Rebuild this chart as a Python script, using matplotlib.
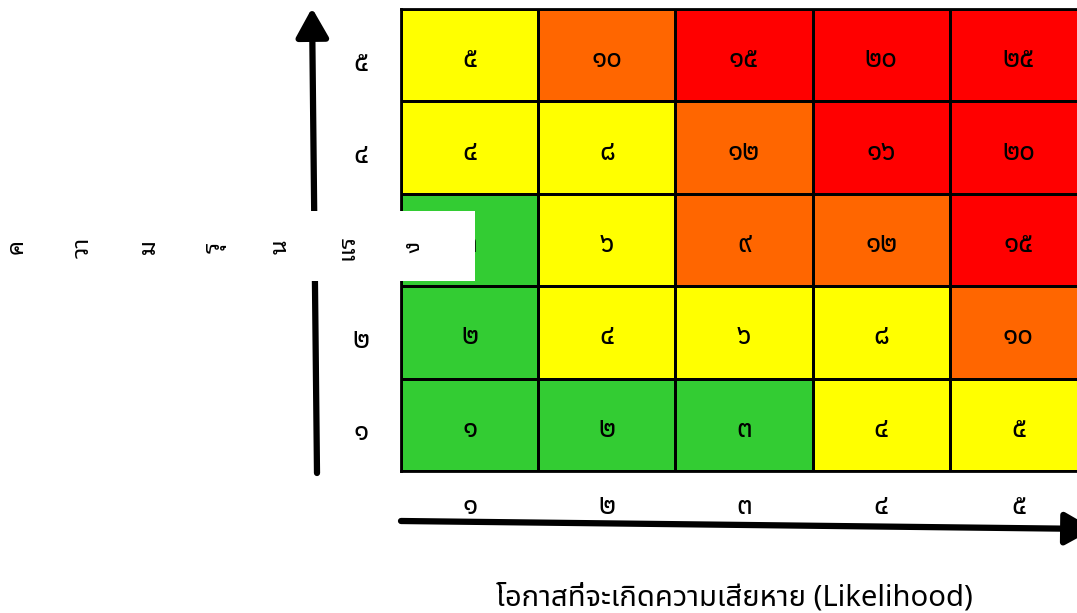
import matplotlib
matplotlib.use("Agg")
import matplotlib.pyplot as plt
import numpy as np
from matplotlib.colors import ListedColormap
from matplotlib.patches import Rectangle
from matplotlib.transforms import ScaledTranslation

# ---- data ----
likelihood_labels = ["๑", "๒", "๓", "๔", "๕"]
severity_labels = ["๑", "๒", "๓", "๔", "๕"]          # bottom -> top
# scores, rows from severity 1 (bottom) to 5 (top)
scores = [
    ["๑", "๒", "๓", "๔", "๕"],
    ["๒", "๔", "๖", "๘", "๑๐"],
    ["๓", "๖", "๙", "๑๒", "๑๕"],
    ["๔", "๘", "๑๒", "๑๖", "๒๐"],
    ["๕", "๑๐", "๑๕", "๒๐", "๒๕"],
]
# risk level per cell: 0 low(green) 1 medium(yellow) 2 high(orange) 3 very high(red)
levels = [
    [0, 0, 0, 1, 1],
    [0, 1, 1, 1, 2],
    [0, 1, 2, 2, 3],
    [1, 1, 2, 3, 3],
    [1, 2, 3, 3, 3],
]
level_colors = ["#33CC33", "#FFFF00", "#FF6600", "#FF0000"]
xlabel_text = "โอกาสที่จะเกิดความเสียหาย (Likelihood)"
ylabel_chars = ["ค", "วา", "ม", "รุ", "น", "แร", "ง"]

FONT = ["Noto Sans Thai", "DejaVu Sans"]
LOOPED = ["Noto Sans Thai Looped", "DejaVu Sans"]
plt.rcParams["font.family"] = FONT

W, H = 1077, 613
fig = plt.figure(figsize=(W / 100, H / 100), dpi=100)
down = ScaledTranslation(0, -5 / 100, fig.dpi_scale_trans)

# ---- grid ----
gx0, gx1, gy0, gy1 = 401, 1087, 9, 471
ax = fig.add_axes([gx0 / W, (H - gy1) / H, (gx1 - gx0) / W, (gy1 - gy0) / H])
lv = np.array(levels)
cmap = ListedColormap(level_colors)
ax.pcolormesh(np.arange(6), np.arange(6), lv, cmap=cmap, vmin=-0.5, vmax=3.5,
              edgecolors="black", linewidth=2)
ax.set_xlim(0, 5)
ax.set_ylim(0, 5)
for s in ax.spines.values():
    s.set_linewidth(2)
for r in range(5):
    for c in range(5):
        ax.text(c + 0.5, r + 0.5, scores[r][c], ha="center", va="center",
                fontsize=20, fontweight="light", transform=ax.transData + down)

ax.set_xticks(np.arange(5) + 0.5, likelihood_labels, fontsize=20, fontweight="light")
ax.set_yticks(np.arange(5) + 0.5, severity_labels, fontsize=20, fontweight="light")
ax.tick_params(axis="x", length=0, pad=26)
ax.tick_params(axis="y", length=0, pad=29)
for t in ax.get_xticklabels():
    t.set_va("center")
for t in ax.get_yticklabels():
    t.set_ha("center")
    t.set_transform(t.get_transform() + down)

# ---- overlay: arrows, white box, labels ----
ov = fig.add_axes([0, 0, 1, 1], zorder=5)
ov.set_xlim(0, W)
ov.set_ylim(H, 0)
ov.axis("off")
ov.patch.set_alpha(0)

aprops = dict(arrowstyle="-|>,head_length=0.8,head_width=0.45",
              lw=4.5, color="black", mutation_scale=22, shrinkA=0, shrinkB=0)
ov.annotate("", xy=(312, 8), xytext=(317, 473), arrowprops=aprops, annotation_clip=False)
ov.annotate("", xy=(1094, 529), xytext=(401, 521), arrowprops=aprops, annotation_clip=False)

ov.add_patch(Rectangle((0, 211), 475, 70, facecolor="white", edgecolor="none", zorder=3))
for i, ch in enumerate(ylabel_chars):
    ov.text(17 + i * 66, 247, ch, rotation=90, ha="center", va="center",
            fontsize=17, family=LOOPED, zorder=4)

ov.text(734, 598, xlabel_text, ha="center", va="center", fontsize=21, fontweight="light")

fig.savefig("out.png", dpi=100)
